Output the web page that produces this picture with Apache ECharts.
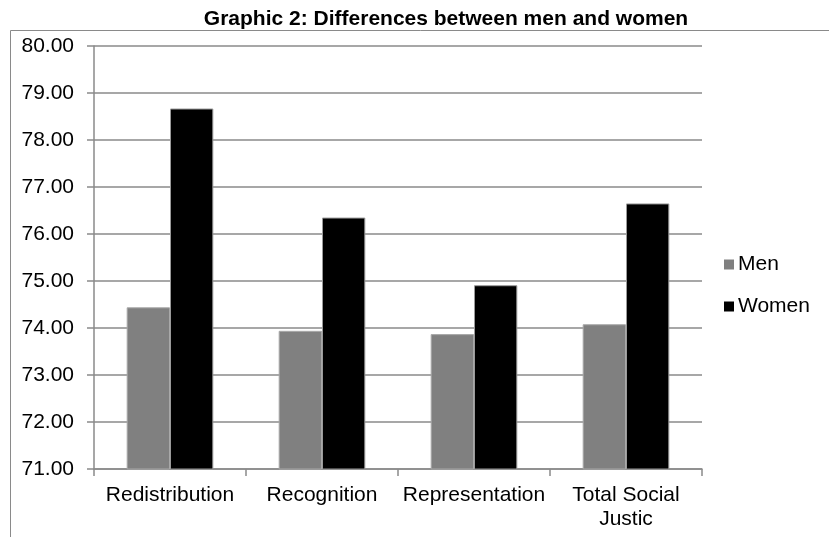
<!DOCTYPE html>
<html>
<head>
<meta charset="utf-8">
<script src="https://cdn.jsdelivr.net/npm/echarts@6/dist/echarts.min.js"></script>
<style>
  html, body { margin: 0; padding: 0; background: #fff; }
  #chart { width: 829px; height: 537px; }
</style>
</head>
<body>
<div id="chart"></div>
<script>
// Mean scores per dimension, split by gender
const categories = ['Redistribution', 'Recognition', 'Representation', 'Total Social\nJustic'];
const menValues = [74.44, 73.94, 73.87, 74.08];
const womenValues = [78.67, 76.35, 74.91, 76.65];
const seriesNames = ['Men', 'Women'];

const FONT = '"Liberation Sans", Arial, sans-serif';
const GRID_GRAY = '#8a8a8a';

const chart = echarts.init(document.getElementById('chart'), null, { renderer: 'canvas' });

chart.setOption({
  backgroundColor: '#ffffff',
  animation: false,
  title: {
    text: 'Graphic 2: Differences between men and women',
    left: 446,
    top: 9,
    textAlign: 'center',
    padding: 0,
    textStyle: { fontFamily: FONT, fontSize: 21, fontWeight: 'bold', color: '#000' }
  },
  graphic: [{
    // chart-area frame
    type: 'rect',
    shape: { x: 10.5, y: 30.5, width: 840, height: 540 },
    style: { fill: 'none', stroke: GRID_GRAY, lineWidth: 1 },
    silent: true
  }],
  legend: {
    orient: 'vertical',
    left: 724,
    top: 254,
    padding: 0,
    itemWidth: 10,
    itemHeight: 10,
    itemGap: 21,
    icon: 'rect',
    data: seriesNames,
    itemStyle: { borderWidth: 0 },
    textStyle: { fontFamily: FONT, fontSize: 21, color: '#000', padding: [0, 0, 0, -1] }
  },
  grid: { left: 94, right: 127, top: 46, bottom: 68, containLabel: false },
  xAxis: {
    type: 'category',
    data: categories,
    axisLine: { show: true, lineStyle: { color: GRID_GRAY, width: 1.5 } },
    axisTick: { show: true, length: 7, alignWithLabel: false, lineStyle: { color: GRID_GRAY, width: 1.5 } },
    axisLabel: {
      fontFamily: FONT, fontSize: 21, color: '#000', margin: 14,
      lineHeight: 24, interval: 0
    },
    splitLine: { show: false }
  },
  yAxis: {
    type: 'value',
    min: 71,
    max: 80,
    interval: 1,
    axisLine: { show: true, lineStyle: { color: GRID_GRAY, width: 1.5 } },
    axisTick: { show: true, length: 7, lineStyle: { color: GRID_GRAY, width: 1.5 } },
    axisLabel: {
      fontFamily: FONT, fontSize: 21, color: '#000', margin: 20,
      formatter: v => v.toFixed(2)
    },
    splitLine: { show: true, lineStyle: { color: GRID_GRAY, width: 1.5 } }
  },
  series: [
    {
      name: seriesNames[0],
      type: 'bar',
      data: menValues,
      barGap: '0%',
      barCategoryGap: '43%',
      itemStyle: { color: '#808080', borderColor: '#a8a8a8', borderWidth: 1 }
    },
    {
      name: seriesNames[1],
      type: 'bar',
      data: womenValues,
      barGap: '0%',
      barCategoryGap: '43%',
      itemStyle: { color: '#000000', borderColor: '#9a9a9a', borderWidth: 1 }
    }
  ]
});
</script>
</body>
</html>
